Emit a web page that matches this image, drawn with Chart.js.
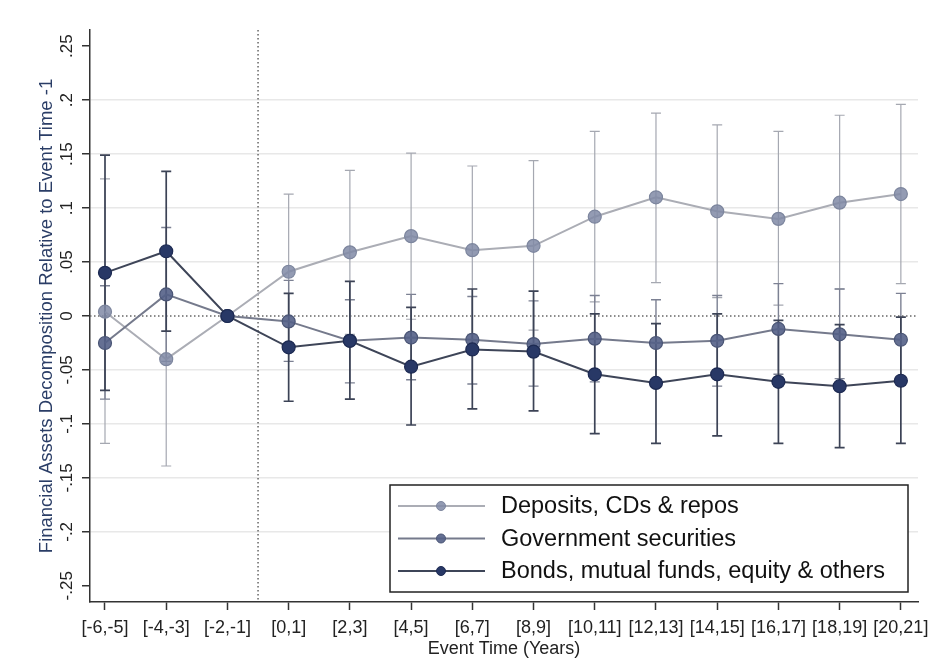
<!DOCTYPE html>
<html>
<head>
<meta charset="utf-8">
<title>Financial assets decomposition</title>
<script src="https://cdn.jsdelivr.net/npm/chart.js@4.4.1/dist/chart.umd.min.js"></script>
<style>
  html, body { margin: 0; padding: 0; background: #fff; }
  #wrap { width: 933px; height: 668px; }
</style>
</head>
<body>
<div id="wrap"><canvas id="chart" width="933" height="668"></canvas></div>
<script>
// event-time bins
const categories = ['[-6,-5]', '[-4,-3]', '[-2,-1]', '[0,1]', '[2,3]', '[4,5]', '[6,7]',
  '[8,9]', '[10,11]', '[12,13]', '[14,15]', '[16,17]', '[18,19]', '[20,21]'];

const seriesNames = ['Deposits, CDs & repos', 'Government securities', 'Bonds, mutual funds, equity & others'];

// point estimates + 95% CI bounds (base period has none)
const deposits     = [0.004, -0.040, 0, 0.041, 0.059, 0.074, 0.061, 0.065, 0.092, 0.110, 0.097, 0.090, 0.105, 0.113];
const depositsLow  = [-0.118, -0.139, null, -0.031, -0.017, -0.003, -0.017, -0.013, 0.013, 0.031, 0.017, 0.010, 0.025, 0.030];
const depositsHigh = [0.127, 0.059, null, 0.113, 0.135, 0.151, 0.139, 0.144, 0.171, 0.188, 0.177, 0.171, 0.186, 0.196];

const govSec       = [-0.025, 0.020, 0, -0.005, -0.023, -0.020, -0.022, -0.026, -0.021, -0.025, -0.023, -0.012, -0.017, -0.022];
const govSecLow    = [-0.077, -0.042, null, -0.042, -0.062, -0.059, -0.063, -0.065, -0.061, -0.065, -0.065, -0.054, -0.058, -0.064];
const govSecHigh   = [0.028, 0.082, null, 0.033, 0.015, 0.020, 0.018, 0.014, 0.019, 0.015, 0.019, 0.030, 0.025, 0.021];

const bonds        = [0.040, 0.060, 0, -0.029, -0.023, -0.047, -0.031, -0.033, -0.054, -0.062, -0.054, -0.061, -0.065, -0.060];
const bondsLow     = [-0.069, -0.014, null, -0.079, -0.077, -0.101, -0.086, -0.088, -0.109, -0.118, -0.111, -0.118, -0.122, -0.118];
const bondsHigh    = [0.149, 0.134, null, 0.021, 0.032, 0.008, 0.025, 0.023, 0.002, -0.007, 0.002, -0.004, -0.008, -0.001];

const yTickValues = [-0.25, -0.2, -0.15, -0.1, -0.05, 0, 0.05, 0.1, 0.15, 0.2, 0.25];
const yTickLabels = ['-.25', '-.2', '-.15', '-.1', '-.05', '0', '.05', '.1', '.15', '.2', '.25'];

const eventLine = 2.5; // treatment marker between [-2,-1] and [0,1]

const FONT = "'Liberation Sans', Arial, sans-serif";

const toPoints = arr => arr.map((v, i) => ({ x: i, y: v }));

// reference lines + CI whiskers, drawn under the markers
const errorBars = {
  id: 'errorBars',
  beforeDatasetsDraw(chart) {
    const { ctx, chartArea, scales: { x, y } } = chart;
    ctx.save();
    ctx.strokeStyle = '#666';
    ctx.lineWidth = 1.5;
    ctx.setLineDash([1.5, 2.5]);
    ctx.beginPath();
    const ex = x.getPixelForValue(eventLine);
    ctx.moveTo(ex, chartArea.top);
    ctx.lineTo(ex, chartArea.bottom);
    const zy = y.getPixelForValue(0);
    ctx.moveTo(chartArea.left, zy);
    ctx.lineTo(chartArea.right, zy);
    ctx.stroke();
    ctx.setLineDash([]);

    chart.data.datasets.forEach(ds => {
      ctx.strokeStyle = ds.ciColor;
      ctx.lineWidth = ds.ciWidth;
      ds.ciLow.forEach((lo, i) => {
        const hi = ds.ciHigh[i];
        if (lo == null || hi == null) return;
        const px = x.getPixelForValue(i);
        const yl = y.getPixelForValue(lo);
        const yh = y.getPixelForValue(hi);
        ctx.beginPath();
        ctx.moveTo(px, yl); ctx.lineTo(px, yh);
        ctx.moveTo(px - 5, yl); ctx.lineTo(px + 5, yl);
        ctx.moveTo(px - 5, yh); ctx.lineTo(px + 5, yh);
        ctx.stroke();
      });
    });
    ctx.restore();
  }
};

// Stata-style boxed legend inside the plot, bottom right
const boxLegend = {
  id: 'boxLegend',
  afterDraw(chart) {
    const { ctx, chartArea } = chart;
    const w = 518, h = 107;
    const left = chartArea.right - 10 - w;
    const top = chartArea.bottom - 10 - h;
    ctx.save();
    ctx.fillStyle = '#fff';
    ctx.fillRect(left, top, w, h);
    ctx.strokeStyle = '#222';
    ctx.lineWidth = 1.5;
    ctx.strokeRect(left, top, w, h);
    ctx.font = '23.5px ' + FONT;
    ctx.textBaseline = 'middle';
    chart.data.datasets.forEach((ds, i) => {
      const cy = top + 21 + i * 32.5;
      ctx.strokeStyle = ds.borderColor;
      ctx.lineWidth = 2;
      ctx.beginPath();
      ctx.moveTo(left + 8, cy);
      ctx.lineTo(left + 95, cy);
      ctx.stroke();
      ctx.beginPath();
      ctx.arc(left + 51, cy, 4.5, 0, Math.PI * 2);
      ctx.fillStyle = ds.pointBackgroundColor;
      ctx.fill();
      ctx.lineWidth = 1;
      ctx.strokeStyle = ds.pointBorderColor;
      ctx.stroke();
      ctx.fillStyle = '#111';
      ctx.fillText(ds.label, left + 111, cy + 1);
    });
    ctx.restore();
  }
};

const datasets = [
  {
    label: seriesNames[0],
    data: toPoints(deposits),
    ciLow: depositsLow, ciHigh: depositsHigh,
    ciColor: '#a5a8b1', ciWidth: 1.2,
    borderColor: '#abadb5',
    pointBackgroundColor: 'rgba(128,138,166,0.85)',
    pointBorderColor: '#7d869e',
    order: 3
  },
  {
    label: seriesNames[1],
    data: toPoints(govSec),
    ciLow: govSecLow, ciHigh: govSecHigh,
    ciColor: '#7c8193', ciWidth: 1.4,
    borderColor: '#757a8c',
    pointBackgroundColor: 'rgba(84,97,135,0.9)',
    pointBorderColor: '#4a5575',
    order: 2
  },
  {
    label: seriesNames[2],
    data: toPoints(bonds),
    ciLow: bondsLow, ciHigh: bondsHigh,
    ciColor: '#3c4356', ciWidth: 1.7,
    borderColor: '#3e4558',
    pointBackgroundColor: '#283866',
    pointBorderColor: '#1d2a52',
    order: 1
  }
];

new Chart(document.getElementById('chart'), {
  type: 'line',
  data: {
    datasets: datasets.map(ds => Object.assign({
      borderWidth: 2,
      pointRadius: 6.5,
      pointBorderWidth: 1.2,
      tension: 0,
      fill: false
    }, ds))
  },
  options: {
    responsive: false,
    animation: false,
    layout: { padding: { top: 30, right: 15, left: 0, bottom: 0 } },
    plugins: {
      legend: { display: false },
      tooltip: { enabled: false }
    },
    scales: {
      x: {
        type: 'linear',
        min: -0.245,
        max: 13.28,
        afterBuildTicks: s => { s.ticks = categories.map((c, i) => ({ value: i })); },
        afterFit: s => { s.height = 66; s.paddingLeft = 0; s.paddingRight = 0; },
        border: { color: '#333', width: 1.5 },
        grid: { drawOnChartArea: false, color: '#333', tickColor: '#333', tickLength: 8, tickWidth: 1.5 },
        ticks: {
          autoSkip: false, maxRotation: 0, minRotation: 0, padding: 7,
          color: '#222', font: { family: FONT, size: 18 },
          callback: (v, i) => categories[i]
        },
        title: {
          display: true, text: 'Event Time (Years)', color: '#222',
          font: { family: FONT, size: 18 }, padding: { top: 0, bottom: 8 }
        }
      },
      y: {
        type: 'linear',
        min: -0.265,
        max: 0.265,
        afterBuildTicks: s => { s.ticks = yTickValues.map(v => ({ value: v })); },
        afterFit: s => { s.width = 90; s.paddingTop = 0; s.paddingBottom = 0; },
        border: { color: '#333', width: 1.5 },
        grid: {
          color: c => (c.tick && (Math.abs(c.tick.value) > 0.24 || c.tick.value === 0)) ? 'rgba(0,0,0,0)' : '#e8e8e8',
          lineWidth: 1.5,
          tickColor: '#333', tickLength: 8, tickWidth: 1.5
        },
        ticks: {
          minRotation: 90, maxRotation: 90, crossAlign: 'center', padding: 0,
          color: '#222', font: { family: FONT, size: 17 },
          callback: (v, i) => yTickLabels[i]
        },
        title: {
          display: true, text: 'Financial Assets Decomposition Relative to Event Time -1',
          color: '#2a3d66', font: { family: FONT, size: 18.5 }, padding: { top: 36, bottom: 0 }
        }
      }
    }
  },
  plugins: [errorBars, boxLegend]
});
</script>
</body>
</html>
